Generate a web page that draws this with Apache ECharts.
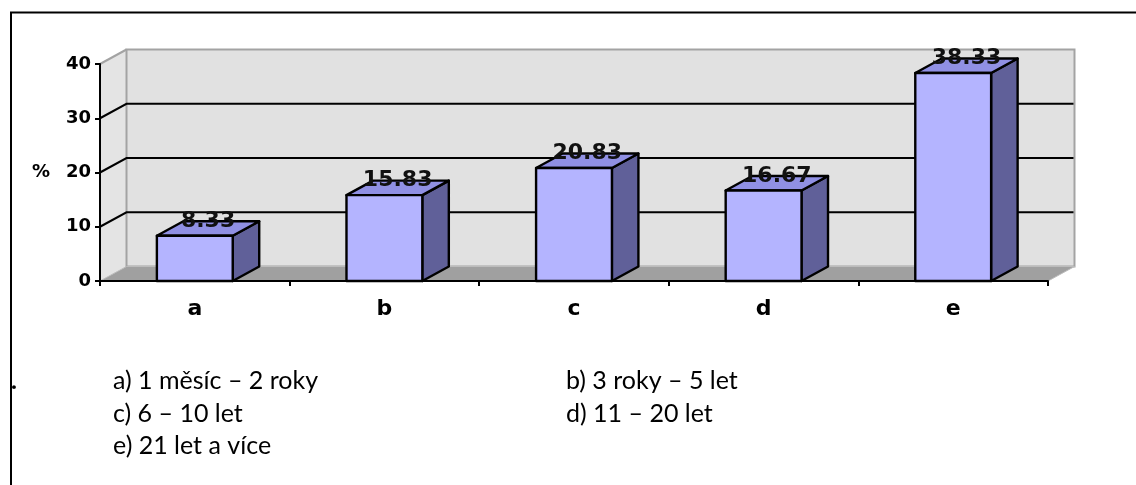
<!DOCTYPE html>
<html>
<head>
<meta charset="utf-8">
<script src="https://cdn.jsdelivr.net/npm/echarts@6/dist/echarts.min.js"></script>
<style>
  html, body { margin: 0; padding: 0; background: #fff; }
  #chart { width: 1136px; height: 485px; }
</style>
</head>
<body>
<div id="chart"></div>
<script>
// Share of respondents by length of practice (%)
const categories = ['a', 'b', 'c', 'd', 'e'];
const percentValues = [8.33, 15.83, 20.83, 16.67, 38.33];
const yMin = 0, yMax = 40, yStep = 10;
const wallGridValues = [10, 20, 30];
const legendLines = [
  ['a) 1 měsíc – 2 roky', 'b) 3 roky – 5 let'],
  ['c) 6 – 10 let', 'd) 11 – 20 let'],
  ['e) 21 let a více']
];

// depth offset of the pseudo-3D box (px)
const DX = 26.5, DY = -14.5;

function renderWalls(params, api) {
  const cs = params.coordSys;
  const x0 = cs.x, x1 = cs.x + cs.width;
  const yt = cs.y, yb = cs.y + cs.height;
  const kids = [];
  // left side wall
  kids.push({ type: 'polygon', shape: { points: [[x0, yb], [x0, yt], [x0 + DX, yt + DY], [x0 + DX, yb + DY]] },
    style: { fill: '#e4e4e4' } });
  // back wall
  kids.push({ type: 'rect', shape: { x: x0 + DX, y: yt + DY, width: cs.width, height: cs.height },
    style: { fill: '#e1e1e1', stroke: '#a3a3a3', lineWidth: 2 } });
  // floor
  kids.push({ type: 'polygon', shape: { points: [[x0, yb], [x1, yb], [x1 + DX, yb + DY], [x0 + DX, yb + DY]] },
    style: { fill: '#a0a0a0', stroke: '#bcbcbc', lineWidth: 1 } });
  // top edge of side wall
  kids.push({ type: 'line', shape: { x1: x0, y1: yt, x2: x0 + DX, y2: yt + DY },
    style: { stroke: '#a3a3a3', lineWidth: 2 } });
  // grid lines across side wall and back wall
  wallGridValues.forEach(function (v) {
    const y = api.coord([0, v])[1];
    kids.push({ type: 'polyline', shape: { points: [[x0, y], [x0 + DX, y + DY], [x1 + DX - 1, y + DY]] },
      style: { stroke: '#000', lineWidth: 2, fill: null } });
  });
  return { type: 'group', children: kids };
}

function renderBar(params, api) {
  const idx = api.value(0);
  const val = api.value(1);
  const top = api.coord([idx, val]);
  const base = api.coord([idx, 0]);
  const w = api.size([1, 0])[0] * 0.4;
  const xl = top[0] - w / 2, xr = top[0] + w / 2;
  const yt = top[1], yb = base[1];
  const edge = { stroke: '#000', lineWidth: 2.4, lineJoin: 'round' };
  return {
    type: 'group',
    children: [
      { type: 'polygon', shape: { points: [[xr, yt], [xr + DX, yt + DY], [xr + DX, yb + DY], [xr, yb]] },
        style: Object.assign({ fill: '#606099' }, edge) },
      { type: 'polygon', shape: { points: [[xl, yt], [xr, yt], [xr + DX, yt + DY], [xl + DX, yt + DY]] },
        style: Object.assign({ fill: '#9090e4' }, edge) },
      { type: 'rect', shape: { x: xl, y: yt, width: w, height: yb - yt },
        style: Object.assign({ fill: '#b4b4ff' }, edge) },
      { type: 'text', x: top[0] + DX / 2, y: yt + DY,
        style: { text: val.toFixed(2), fill: '#111', font: 'bold 22px "DejaVu Sans"',
          align: 'center', verticalAlign: 'middle' } }
    ]
  };
}

const legendX = [113, 566];
const legendY = [381, 413.5, 446];
const graphics = [
  { type: 'polyline', shape: { points: [[11, 490], [11, 12.5], [1140, 12.5]] },
    style: { stroke: '#000', lineWidth: 2, fill: null }, z: 20 },
  { type: 'text', x: 11, y: 381,
    style: { text: '.', fill: '#000', font: 'bold 25px Lato', verticalAlign: 'middle' }, z: 20 }
];
legendLines.forEach(function (row, r) {
  row.forEach(function (txt, c) {
    graphics.push({ type: 'text', x: legendX[c], y: legendY[r],
      style: { text: txt, fill: '#000', font: '25px Lato', verticalAlign: 'middle' }, z: 20 });
  });
});

const chart = echarts.init(document.getElementById('chart'), null, { renderer: 'canvas' });
chart.setOption({
  animation: false,
  backgroundColor: '#fff',
  grid: { left: 100, right: 88, top: 64, bottom: 204 },
  xAxis: {
    type: 'category',
    data: categories,
    z: 10,
    axisLine: { lineStyle: { color: '#000', width: 2 } },
    axisTick: { show: true, length: 5, lineStyle: { color: '#000', width: 2 } },
    axisLabel: { color: '#000', fontFamily: 'DejaVu Sans', fontWeight: 'bold', fontSize: 22, margin: 17 },
    splitLine: { show: false }
  },
  yAxis: {
    type: 'value',
    min: yMin, max: yMax, interval: yStep,
    z: 10,
    name: '%',
    nameLocation: 'middle',
    nameRotate: 0,
    nameGap: 50,
    nameTextStyle: { color: '#000', fontFamily: 'DejaVu Sans', fontWeight: 'bold', fontSize: 18 },
    axisLine: { show: true, lineStyle: { color: '#000', width: 2 } },
    axisTick: { show: true, length: 5, lineStyle: { color: '#000', width: 2 } },
    axisLabel: { color: '#000', fontFamily: 'DejaVu Sans', fontWeight: 'bold', fontSize: 18, margin: 9 },
    splitLine: { show: false }
  },
  series: [
    { type: 'custom', z: 1, silent: true, renderItem: renderWalls, data: [[0, 0]] },
    { type: 'custom', z: 3, renderItem: renderBar,
      data: percentValues.map(function (v, i) { return [i, v]; }) }
  ],
  graphic: graphics
});
</script>
</body>
</html>
